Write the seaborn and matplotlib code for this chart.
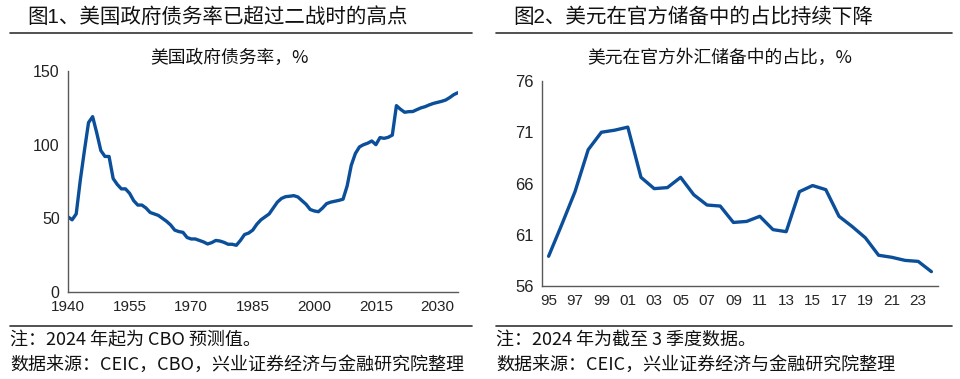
import numpy as np
import pandas as pd
import seaborn as sns
from matplotlib import pyplot as plt
from matplotlib.lines import Line2D

# left chart: US government debt ratio, %
debt_years = list(range(1940, 2036))
debt_ratio = [51, 49, 53, 76, 96, 115, 119, 108, 96, 92,
              92, 77, 73, 70, 70, 67, 62, 59, 59, 57,
              54, 53, 52, 50, 48, 45.5, 42, 41, 40.5, 37,
              36, 36, 35, 34, 32.6, 33.5, 35, 34.6, 33.7, 32.4,
              32.4, 31.7, 35, 39, 40, 42, 46, 49, 51, 53,
              57, 61, 63.5, 64.7, 65, 65.4, 64.5, 62, 59.5, 56,
              55, 54.5, 57, 60, 61, 61.6, 62.2, 63, 72, 86,
              94, 98.5, 100, 101, 102.5, 100, 104.8, 104.3, 105, 106.5,
              126.5, 124, 122, 122.4, 122.5, 123.8, 125, 125.8, 127, 128,
              128.7, 129.4, 130.3, 132, 134, 135.3]
debt_xticks = [1940, 1955, 1970, 1985, 2000, 2015, 2030]
debt_yticks = [0, 50, 100, 150]

# right chart: USD share of official FX reserves, %
usd_years = list(range(1995, 2025))
usd_share = [58.9, 62.0, 65.2, 69.3, 71.0, 71.2, 71.5, 66.6, 65.5, 65.6,
             66.6, 64.9, 63.9, 63.8, 62.2, 62.3, 62.8, 61.5, 61.3, 65.2,
             65.8, 65.4, 62.8, 61.8, 60.7, 59.0, 58.8, 58.5, 58.4, 57.4]
usd_yticks = [56, 61, 66, 71, 76]

titles = ["图1、美国政府债务率已超过二战时的高点", "图2、美元在官方储备中的占比持续下降"]
subtitles = ["美国政府债务率，%", "美元在官方外汇储备中的占比，%"]
notes = ["注：2024 年起为 CBO 预测值。", "注：2024 年为截至 3 季度数据。"]
sources = ["数据来源：CEIC，CBO，兴业证券经济与金融研究院整理", "数据来源：CEIC，兴业证券经济与金融研究院整理"]

sns.set_style("white")
plt.rcParams['font.family'] = ['Noto Sans CJK SC', 'DejaVu Sans']
tick_font = ['Liberation Sans Narrow', 'Liberation Sans', 'DejaVu Sans']
mixed_font = ['Liberation Sans Narrow', 'Noto Sans CJK SC', 'DejaVu Sans']
title_font = ['Liberation Sans', 'Noto Sans CJK SC', 'DejaVu Sans']
line_color = '#0B4F9B'
spine_color = '#595959'

W, H = 960, 379
fig = plt.figure(figsize=(9.6, 3.79), dpi=100)

def px_axes(x0, y0, x1, y1):
    return fig.add_axes([x0 / W, 1 - y1 / H, (x1 - x0) / W, (y1 - y0) / H])

def style(ax):
    for s in ['top', 'right']:
        ax.spines[s].set_visible(False)
    for s in ['left', 'bottom']:
        ax.spines[s].set_color(spine_color)
        ax.spines[s].set_linewidth(1.0)
    ax.tick_params(axis='both', direction='out', length=4, width=1, color=spine_color,
                   labelcolor='#222222', pad=2)
    ax.set_xlabel("")
    ax.set_ylabel("")

# left chart
ax1 = px_axes(68, 71, 458, 292)
df1 = pd.DataFrame({"year": debt_years, "ratio": debt_ratio})
sns.lineplot(data=df1, x="year", y="ratio", ax=ax1, color=line_color, linewidth=2.4)
ax1.set_xlim(1940, 2035)
ax1.set_ylim(0, 150)
ax1.set_xticks(debt_xticks)
ax1.set_yticks(debt_yticks)
ax1.set_xticklabels([str(v) for v in debt_xticks], family=tick_font, fontsize=11)
ax1.set_yticklabels([str(v) for v in debt_yticks], family=tick_font, fontsize=11.5)
style(ax1)

# right chart
ax2 = px_axes(542, 81, 938, 286)
df2 = pd.DataFrame({"year": usd_years, "share": usd_share})
sns.lineplot(data=df2, x="year", y="share", ax=ax2, color=line_color, linewidth=2.4)
ax2.set_xlim(usd_years[0] - 0.5, usd_years[-1] + 0.5)
ax2.set_ylim(56, 76)
ax2.set_yticks(usd_yticks)
ax2.set_yticklabels([str(v) for v in usd_yticks], family=tick_font, fontsize=12)
ax2.set_xticks([y - 0.5 for y in usd_years[::2]] + [usd_years[-1] + 0.5])
ax2.set_xticklabels([])
lab_years = usd_years[::2]
ax2.set_xticks(lab_years, minor=True)
ax2.set_xticklabels([str(y)[-2:] for y in lab_years], minor=True, family=tick_font, fontsize=11)
style(ax2)
ax2.tick_params(axis='x', which='minor', length=0, pad=6)

# titles, rules, subtitles, notes
sub_centers = [230, 720]
for i, (x0, x1) in enumerate([(10, 472), (496, 952)]):
    fig.text((x0 + 17) / W, 1 - 17 / H, titles[i], fontsize=14.8, va='center', ha='left',
             color='#111111', family=title_font)
    fig.add_artist(Line2D([x0 / W, x1 / W], [1 - 33 / H, 1 - 33 / H], color='#333333', linewidth=1.2))
    fig.add_artist(Line2D([x0 / W, x1 / W], [1 - 326 / H, 1 - 326 / H], color='#333333', linewidth=1.2))
    fig.text(sub_centers[i] / W, 1 - 58 / H, subtitles[i], fontsize=12.8, va='center', ha='center',
             color='#111111', family=mixed_font)
    fig.text(x0 / W, 1 - 340 / H, notes[i], fontsize=13, va='center', ha='left',
             color='#111111', family=mixed_font)
    fig.text(x0 / W, 1 - 365 / H, sources[i], fontsize=13, va='center', ha='left',
             color='#111111', family=mixed_font)

plt.savefig('out.png', dpi=100)
